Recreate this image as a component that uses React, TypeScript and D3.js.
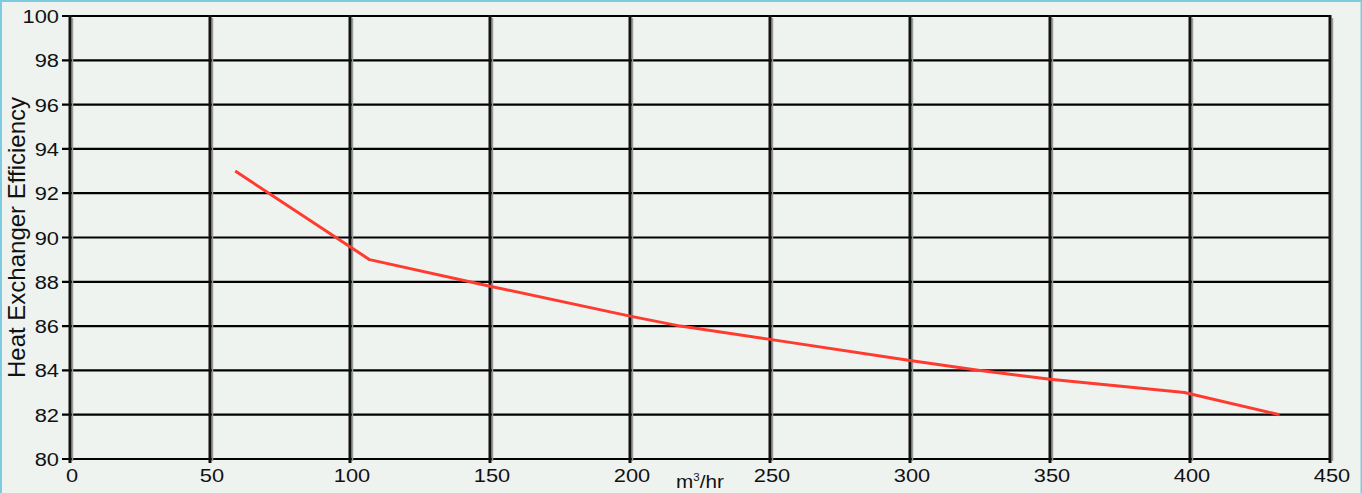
import React from "react";
import * as d3 from "d3";

const flowRates = [59, 107, 150, 200, 218, 250, 300, 325, 350, 398, 432];
const efficiency = [93, 89, 87.8, 86.45, 86, 85.4, 84.45, 84, 83.6, 83, 82];
const xTicks = [0, 50, 100, 150, 200, 250, 300, 350, 400, 450];
const yTicks = [80, 82, 84, 86, 88, 90, 92, 94, 96, 98, 100];

const W = 1362;
const H = 493;
const M = { left: 70, right: 32, top: 16, bottom: 34 };
const SX = 1.15;

export default function App() {
  const x = d3.scaleLinear().domain([0, 450]).range([M.left, W - M.right]);
  const y = d3.scaleLinear().domain([80, 100]).range([H - M.bottom, M.top]);
  const line = d3
    .line<number>()
    .x((_, i) => x(flowRates[i]))
    .y((d) => y(d));
  const font = "'Liberation Sans', Arial, Helvetica, sans-serif";
  return (
    <svg
      width={W}
      height={H}
      style={{ position: "absolute", left: 0, top: 0, display: "block" }}
    >
      <rect x={0} y={0} width={W} height={H} fill="#eef3f0" />
      <rect x={1} y={1} width={W - 1.5} height={H + 4} fill="none" stroke="#7ccbe0" strokeWidth={2} />
      {yTicks.map((t) => (
        <g key={"y" + t}>
          <line x1={x(0) - 8} x2={x(450)} y1={y(t)} y2={y(t)} stroke="#000" strokeWidth={2.2} />
          <text
            transform={`translate(${x(0) - 11}, ${y(t) + 7}) scale(${SX},1)`}
            textAnchor="end"
            fontFamily={font}
            fontSize={19}
            fill="#111"
          >
            {t}
          </text>
        </g>
      ))}
      {xTicks.map((t) => (
        <g key={"x" + t}>
          <line x1={x(t) + 2.5} x2={x(t) + 2.5} y1={y(100) + 2} y2={y(80) + 2} stroke="#9a9a9a" strokeWidth={1.5} />
          <line x1={x(t)} x2={x(t)} y1={y(100) - 1} y2={y(80) + 4} stroke="#111" strokeWidth={3} />
          <text
            transform={`translate(${x(t) + 2}, ${y(80) + 23}) scale(${SX},1)`}
            textAnchor="middle"
            fontFamily={font}
            fontSize={19}
            fill="#111"
          >
            {t}
          </text>
        </g>
      ))}
      <path d={line(efficiency) || ""} fill="none" stroke="#ff3b30" strokeWidth={3} strokeLinejoin="round" />
      <text
        transform={`translate(700, 488) scale(${SX},1)`}
        textAnchor="middle"
        fontFamily={font}
        fontSize={18}
        fill="#111"
      >
        m<tspan fontSize={10} dy={-7}>3</tspan>
        <tspan dy={7}>/hr</tspan>
      </text>
      <text
        transform={`translate(25, ${y(90)}) rotate(-90)`}
        textAnchor="middle"
        fontFamily={font}
        fontSize={24}
        fill="#111"
      >
        Heat Exchanger Efficiency
      </text>
    </svg>
  );
}
